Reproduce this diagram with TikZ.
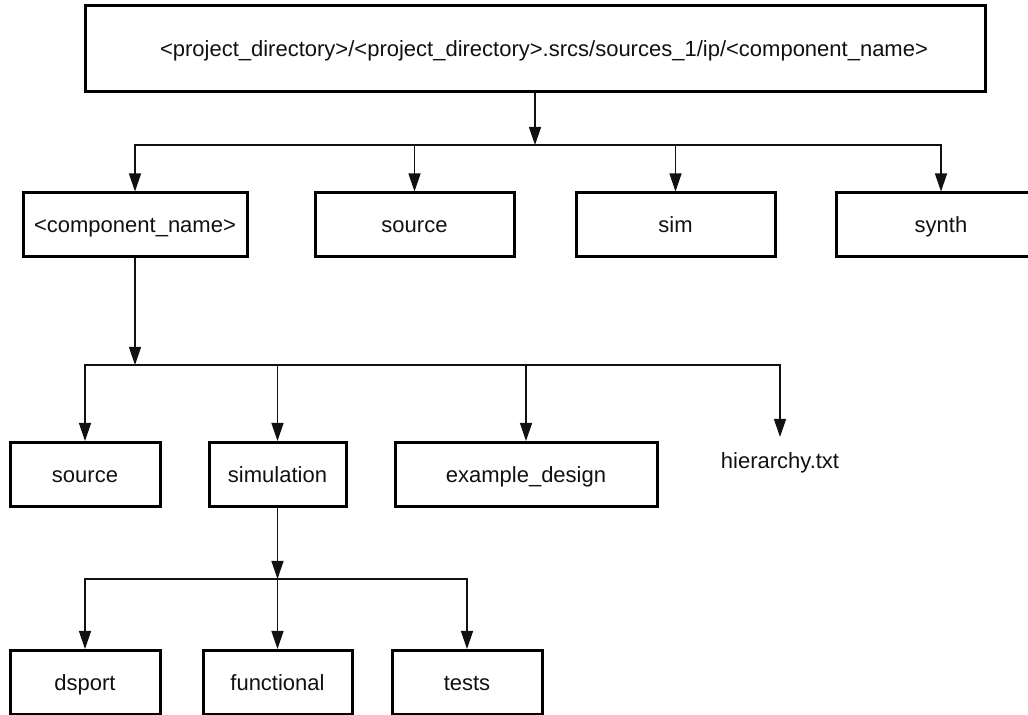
\documentclass[tikz,border=0pt]{standalone}
\usepackage{fontspec}
\setmainfont{Liberation Sans}
\usetikzlibrary{arrows.meta}
\definecolor{Ink}{HTML}{111111}

\begin{document}
\begin{tikzpicture}[x=0.5pt,y=-0.5pt,>={Triangle[length=9pt,width=6pt]},
    dirbox/.style={draw=black,line width=1.5pt,minimum height=32pt,inner sep=0pt,text height=7.9pt,text depth=0pt,text=Ink,font=\fontsize{11}{13}\selectfont},
    link/.style={->,Ink,line width=0.65pt}]
    \useasboundingbox (0,0) rectangle (1028,715);
    \node[dirbox,minimum width=450pt,minimum height=43pt] (root) at (535,49) {\hspace*{9pt}<project\_directory>/<project\_directory>.srcs/sources\_1/ip/<component\_name>};
    \node[dirbox,minimum width=112pt] (comp) at (135,225) {<component\_name>};
    \node[dirbox,minimum width=99.5pt] (src) at (414.5,225) {source};
    \node[dirbox,minimum width=99.5pt] (sim) at (675.5,225) {sim};
    \node[dirbox,minimum width=105pt] (synth) at (941,225) {synth};
    \node[dirbox,minimum width=75pt] (src2) at (85,474.5) {source};
    \node[dirbox,minimum width=68.5pt] (simu) at (277.5,474.5) {simulation};
    \node[dirbox,minimum width=131pt] (exd) at (526,474.5) {example\_design};
    \node[anchor=north,inner xsep=0pt,inner ysep=7.6pt,text height=7.9pt,text depth=0pt,text=Ink,font=\fontsize{11}{13}\selectfont] (hier) at (780,437) {hierarchy.txt};
    \node[dirbox,minimum width=75pt] (dsp) at (85,682.5) {dsport};
    \node[dirbox,minimum width=74.5pt] (func) at (277.5,682.5) {functional};
    \node[dirbox,minimum width=75pt] (tst) at (467,682.5) {tests};
    \coordinate (b1) at (535,145);
    \coordinate (b2) at (135,365);
    \coordinate (b3) at (277.5,579);
    \draw[link] (root) -- (b1);
    \foreach \n in {comp,src,sim,synth}\draw[link] (b1) -| (\n);
    \draw[link] (comp) -- (b2);
    \foreach \n in {src2,simu,exd,hier}\draw[link] (b2) -| (\n);
    \draw[link] (simu) -- (b3);
    \foreach \n in {dsp,func,tst}\draw[link] (b3) -| (\n);
\end{tikzpicture}
\end{document}
